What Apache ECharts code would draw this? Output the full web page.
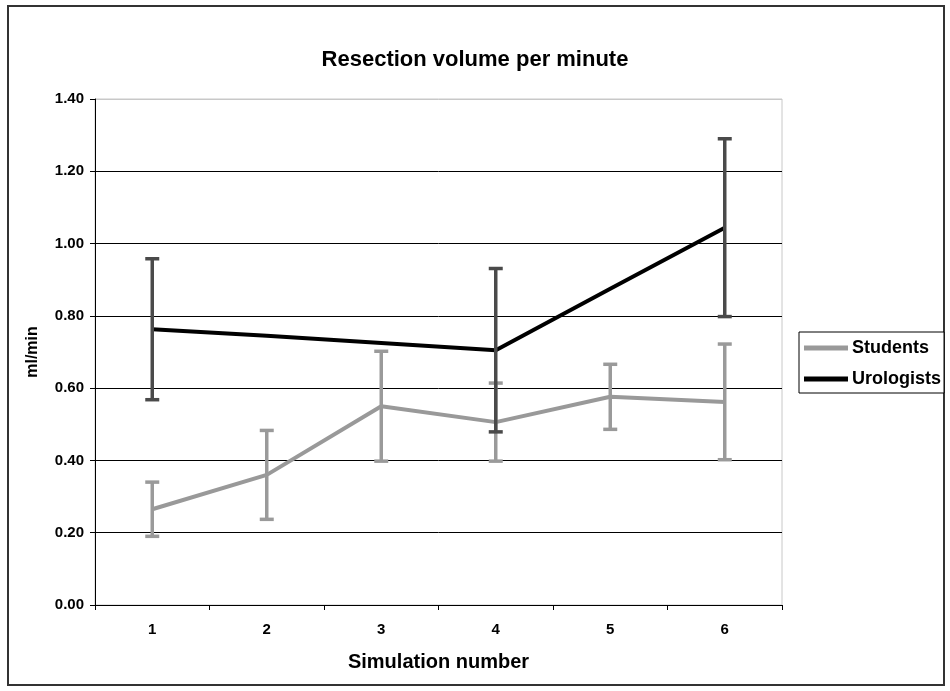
<!DOCTYPE html>
<html>
<head>
<meta charset="utf-8">
<script src="https://cdn.jsdelivr.net/npm/echarts@6/dist/echarts.min.js"></script>
<style>
html,body{margin:0;padding:0;background:#fff;}
#chart{width:950px;height:691px;}
</style>
</head>
<body>
<div id="chart"></div>
<script>
const categories = ['1', '2', '3', '4', '5', '6'];
const yTicks = [0, 0.2, 0.4, 0.6, 0.8, 1.0, 1.2, 1.4];
const studentsMean = [0.265, 0.36, 0.55, 0.506, 0.576, 0.562];
const studentsErr = [0.075, 0.123, 0.152, 0.108, 0.09, 0.16];
const urologistsMean = [0.763, 0.745, 0.725, 0.705, 0.875, 1.044];
const urologistsErr = [0.195, null, null, 0.226, null, 0.246];

const FONT = '"Liberation Sans", Arial, sans-serif';

function errData(mean, err) {
  const out = [];
  mean.forEach((m, i) => {
    if (err[i] != null) out.push([i, m - err[i], m + err[i]]);
  });
  return out;
}

function errRender(color) {
  return function (params, api) {
    const x = api.value(0);
    const lo = api.coord([x, api.value(1)]);
    const hi = api.coord([x, api.value(2)]);
    const hw = 7;
    const style = { stroke: color, lineWidth: 3.5 };
    return {
      type: 'group',
      children: [
        { type: 'line', shape: { x1: lo[0], y1: lo[1], x2: hi[0], y2: hi[1] }, style },
        { type: 'line', shape: { x1: hi[0] - hw, y1: hi[1], x2: hi[0] + hw, y2: hi[1] }, style },
        { type: 'line', shape: { x1: lo[0] - hw, y1: lo[1], x2: lo[0] + hw, y2: lo[1] }, style }
      ]
    };
  };
}

// split line colours: black gridlines, light grey plot-area top edge
const splitColors = yTicks.map((v, i) => i === yTicks.length - 1 ? '#c8c8c8' : '#000');

const chart = echarts.init(document.getElementById('chart'));
chart.setOption({
  animation: false,
  backgroundColor: '#fff',
  textStyle: { fontFamily: FONT },
  title: {
    text: 'Resection volume per minute',
    left: 'center',
    top: 44,
    textStyle: { fontFamily: FONT, fontSize: 22, fontWeight: 'bold', color: '#000' }
  },
  graphic: [{
    type: 'rect',
    shape: { x: 8, y: 6, width: 936, height: 679 },
    style: { fill: null, stroke: '#333', lineWidth: 2 },
    silent: true
  }],
  legend: {
    orient: 'vertical',
    left: 799,
    top: 332,
    padding: [7, 3, 5, 5],
    itemGap: 13,
    itemWidth: 44,
    itemHeight: 5,
    icon: 'rect',
    backgroundColor: '#fff',
    borderColor: '#000',
    borderWidth: 1,
    data: ['Students', 'Urologists'],
    textStyle: { fontFamily: FONT, fontSize: 18, fontWeight: 'bold', color: '#000', padding: [0, 0, 0, -1] }
  },
  grid: {
    left: 95, top: 99, width: 687, height: 506,
    show: true, borderColor: '#c8c8c8', borderWidth: 1, backgroundColor: '#fff'
  },
  xAxis: {
    type: 'category',
    data: categories,
    boundaryGap: true,
    name: 'Simulation number',
    nameLocation: 'middle',
    nameGap: 47,
    nameTextStyle: { fontFamily: FONT, fontSize: 20, fontWeight: 'bold', color: '#000' },
    axisLine: { lineStyle: { color: '#000', width: 1 } },
    axisTick: { show: true, length: 5, inside: false, lineStyle: { color: '#000' } },
    axisLabel: { fontFamily: FONT, fontSize: 15, fontWeight: 'bold', color: '#000', margin: 17 },
    splitLine: { show: false }
  },
  yAxis: {
    type: 'value',
    min: yTicks[0],
    max: yTicks[yTicks.length - 1],
    interval: 0.2,
    name: 'ml/min',
    nameLocation: 'middle',
    nameRotate: 90,
    nameGap: 54,
    nameTextStyle: { fontFamily: FONT, fontSize: 16, fontWeight: 'bold', color: '#000' },
    axisLine: { show: true, lineStyle: { color: '#000', width: 1 } },
    axisTick: { show: true, length: 5, inside: false, lineStyle: { color: '#000' } },
    axisLabel: {
      fontFamily: FONT, fontSize: 15, fontWeight: 'bold', color: '#000', margin: 11,
      formatter: v => v.toFixed(2)
    },
    splitLine: { show: true, lineStyle: { color: splitColors, width: 1 } }
  },
  series: [
    {
      name: 'Students',
      type: 'line',
      data: studentsMean,
      symbol: 'none',
      lineStyle: { color: '#999999', width: 4 },
      itemStyle: { color: '#999999' },
      z: 2
    },
    {
      name: 'Students err',
      type: 'custom',
      data: errData(studentsMean, studentsErr),
      renderItem: errRender('#9a9a9a'),
      z: 3
    },
    {
      name: 'Urologists',
      type: 'line',
      data: urologistsMean,
      symbol: 'none',
      lineStyle: { color: '#000', width: 4 },
      itemStyle: { color: '#000' },
      z: 4
    },
    {
      name: 'Urologists err',
      type: 'custom',
      data: errData(urologistsMean, urologistsErr),
      renderItem: errRender('#4a4a4a'),
      z: 5
    }
  ]
});
</script>
</body>
</html>
